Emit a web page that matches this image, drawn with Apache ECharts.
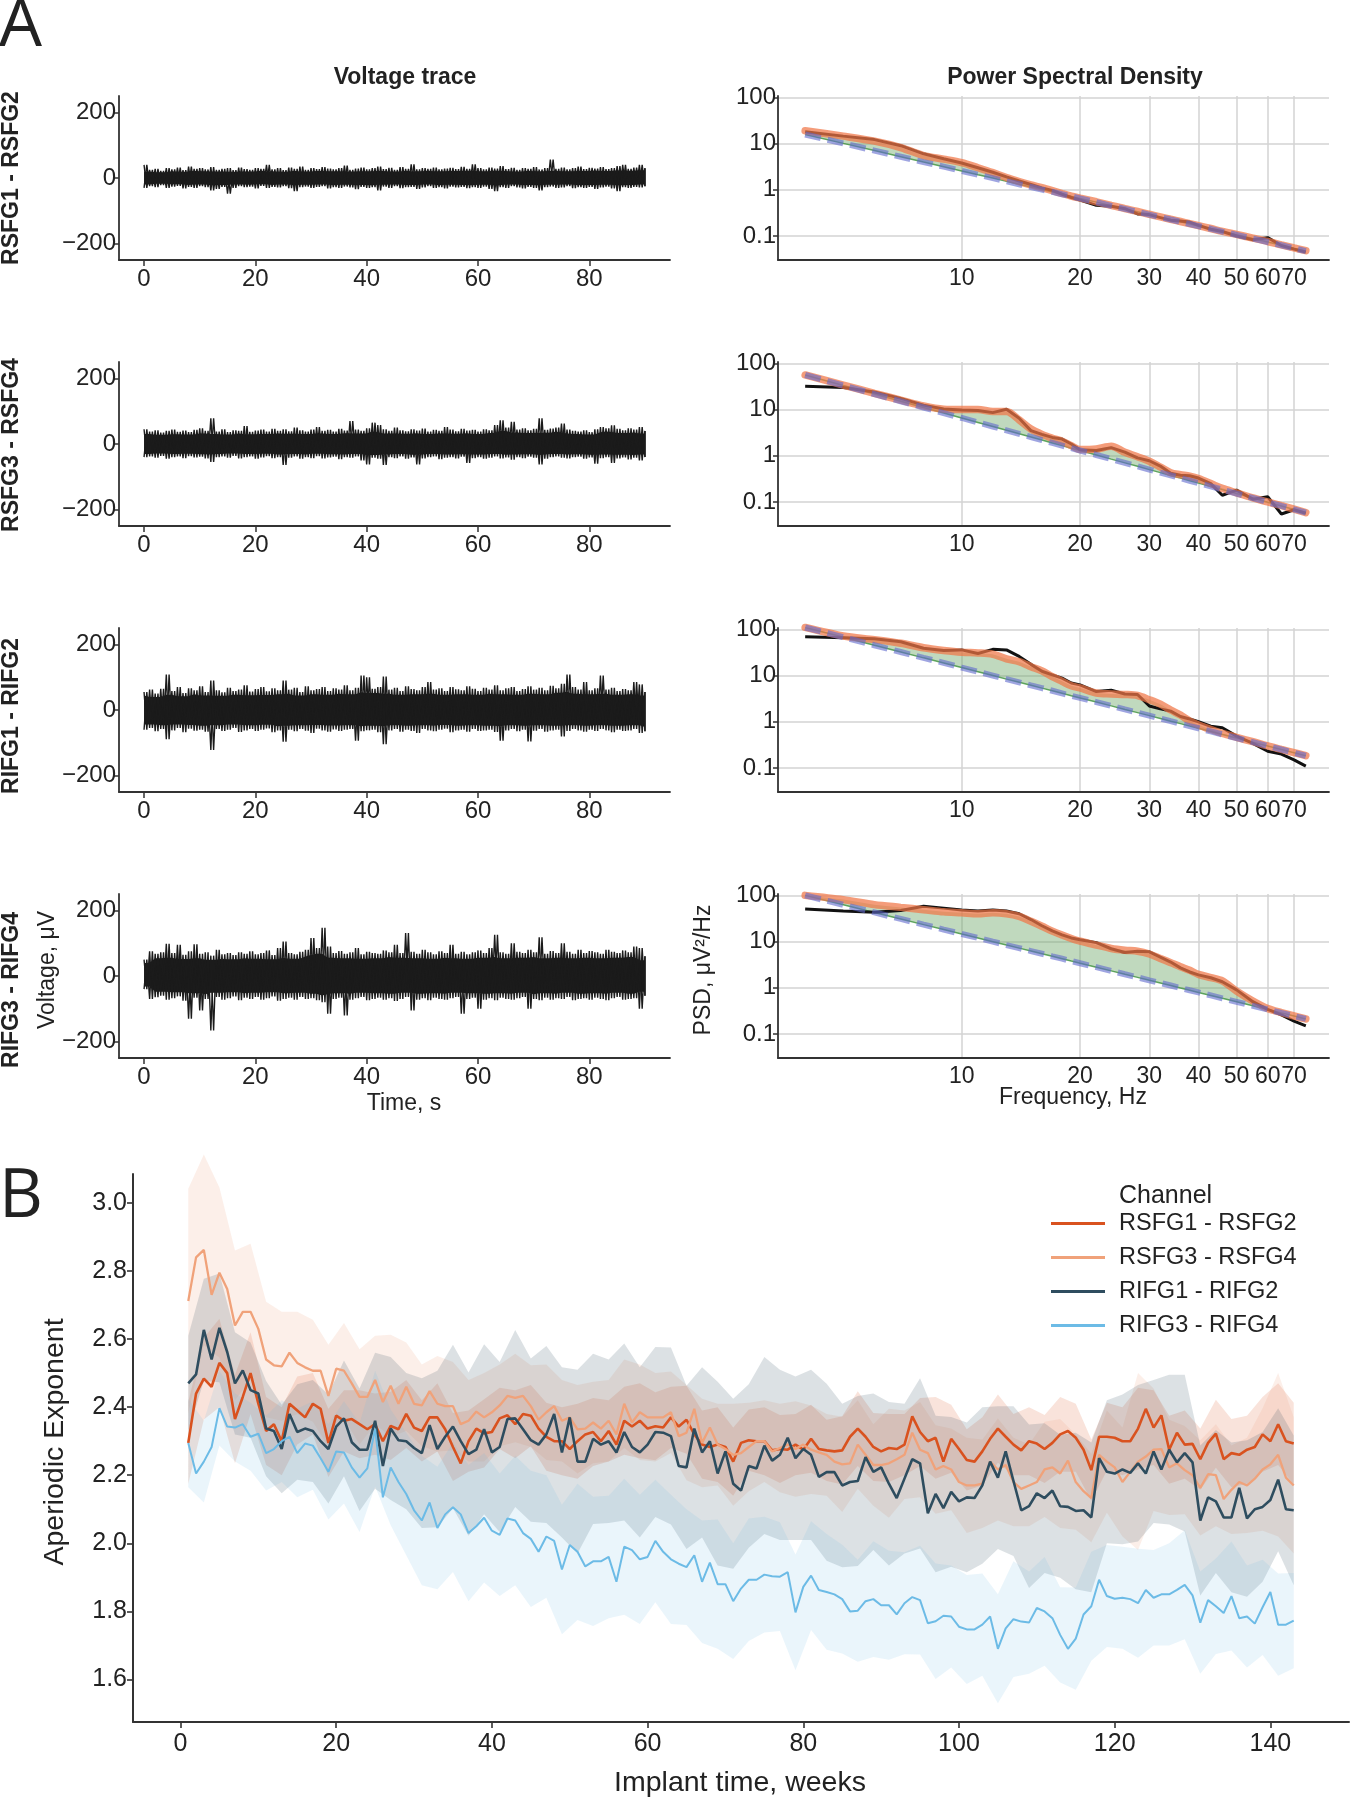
<!DOCTYPE html>
<html><head><meta charset="utf-8">
<script src="https://cdn.jsdelivr.net/npm/echarts@6/dist/echarts.min.js"></script>
<style>html,body{margin:0;padding:0;background:#fff}#c{width:1351px;height:1800px}</style>
</head><body><div id="c"></div>
<script>
// ---------------- DATA ----------------
const channels = ['RSFG1 - RSFG2', 'RSFG3 - RSFG4', 'RIFG1 - RIFG2', 'RIFG3 - RIFG4'];
const timeTicks = [0, 20, 40, 60, 80];
const voltTicks = [-200, 0, 200];

// voltage trace envelopes (µV), one upper and one lower excursion per second, t = 0..90 s
const vUp1 = [40,25,28,22,30,26,32,24,35,28,30,26,33,25,28,30,24,32,27,25,30,28,40,26,30,24,32,28,35,25,30,27,33,29,26,30,38,25,29,32,26,30,35,27,31,25,33,28,42,26,30,28,32,26,29,31,27,34,28,42,30,26,32,29,36,27,31,25,30,28,33,26,30,56,28,32,26,30,35,27,31,29,33,27,30,36,40,28,32,40,30];
const vLo1 = [-30,-25,-28,-22,-30,-26,-24,-32,-27,-30,-25,-28,-38,-33,-27,-48,-30,-25,-28,-26,-32,-24,-30,-27,-29,-25,-31,-40,-28,-26,-30,-27,-25,-32,-28,-30,-26,-29,-34,-27,-30,-28,-38,-26,-30,-25,-31,-28,-27,-33,-29,-25,-30,-28,-32,-26,-29,-27,-31,-28,-30,-26,-33,-40,-28,-30,-25,-29,-32,-27,-30,-38,-28,-26,-30,-29,-25,-31,-28,-30,-27,-33,-29,-26,-32,-40,-28,-30,-27,-29,-25];
const vUp2 = [45,38,42,35,40,44,37,41,36,43,48,40,78,38,45,36,42,40,55,37,41,44,38,46,40,45,39,50,42,38,44,52,40,43,38,46,41,70,44,40,48,65,58,45,40,50,42,39,45,41,47,38,43,40,52,44,39,46,41,43,38,45,42,58,72,50,68,44,48,42,46,78,43,47,50,62,44,40,38,42,36,45,52,48,57,46,42,48,44,52,40];
const vLo2 = [-40,-38,-42,-36,-45,-40,-38,-43,-37,-41,-39,-44,-55,-40,-38,-42,-36,-44,-40,-38,-45,-41,-37,-43,-40,-64,-42,-38,-45,-40,-43,-37,-44,-41,-39,-46,-40,-42,-38,-50,-62,-42,-45,-64,-40,-43,-38,-45,-41,-62,-44,-40,-38,-46,-42,-40,-44,-39,-58,-43,-40,-45,-42,-38,-44,-41,-48,-40,-43,-39,-42,-62,-45,-40,-38,-42,-44,-40,-39,-45,-41,-60,-43,-40,-58,-44,-41,-47,-42,-50,-40];
const vUp3 = [55,62,50,65,108,58,70,52,66,60,72,55,90,60,54,68,58,62,75,56,64,70,57,66,60,90,62,68,55,72,60,64,70,58,66,62,75,60,68,105,100,65,70,102,62,68,58,72,64,60,70,85,62,66,58,70,63,60,72,65,58,68,62,75,60,66,70,58,64,72,62,68,60,74,66,80,108,70,62,85,60,66,105,62,68,58,64,60,85,78,55];
const vLo3 = [-60,-55,-65,-58,-89,-62,-55,-68,-57,-63,-60,-66,-122,-58,-64,-60,-55,-67,-62,-58,-64,-60,-56,-68,-62,-97,-60,-65,-58,-63,-70,-57,-62,-66,-59,-64,-60,-58,-94,-65,-62,-60,-68,-104,-62,-58,-66,-60,-64,-70,-58,-62,-65,-60,-57,-68,-62,-60,-66,-58,-64,-62,-60,-67,-94,-62,-58,-65,-60,-96,-63,-58,-66,-62,-60,-81,-64,-58,-62,-66,-60,-64,-58,-62,-68,-60,-64,-62,-58,-70,-65];
const vUp4 = [50,75,68,72,98,70,95,65,75,97,68,72,62,80,66,70,64,72,68,75,66,70,78,64,85,105,70,66,74,80,116,85,147,90,70,76,68,72,85,66,74,70,68,78,72,95,70,131,74,68,80,72,66,75,70,95,68,74,66,72,78,70,85,126,72,68,100,74,70,80,72,118,68,76,70,100,74,68,80,70,76,72,68,80,74,70,78,72,90,85,60];
const vLo4 = [-40,-70,-65,-60,-72,-68,-62,-75,-130,-66,-105,-70,-166,-64,-72,-68,-62,-74,-66,-70,-64,-72,-68,-62,-75,-70,-66,-72,-64,-70,-68,-74,-80,-115,-70,-66,-120,-72,-68,-64,-74,-70,-66,-72,-68,-76,-70,-64,-105,-72,-68,-74,-66,-70,-72,-68,-64,-115,-70,-66,-100,-72,-68,-74,-66,-70,-72,-68,-64,-100,-70,-74,-66,-72,-68,-70,-64,-74,-70,-68,-72,-66,-70,-74,-68,-64,-72,-70,-68,-100,-60];

// power spectral density (µV²/Hz)
const psdFreqs = [4,5,6,7,8,9,10,11,12,13,14,15,16,17,18,19,20,22,24,26,28,30,32,34,36,38,40,43,46,50,55,60,65,70,75];
const psdTickF = [10, 20, 30, 40, 50, 60, 70];
const psdTickP = [0.1, 1, 10, 100];
const psdBlack1 = [18,14.5,12.2,9.0,6.0,4.7,3.8,3.0,2.4,1.9,1.55,1.3,1.1,0.97,0.8,0.68,0.6,0.46,0.44,0.39,0.3,0.29,0.25,0.22,0.21,0.2,0.17,0.14,0.125,0.1,0.083,0.092,0.062,0.052,0.045];
const psdModel1 = [19,14.5,11.3,8.2,5.5,4.6,3.86,3.0,2.35,1.83,1.5,1.27,1.11,0.96,0.83,0.73,0.66,0.55,0.46,0.39,0.34,0.295,0.26,0.23,0.206,0.185,0.167,0.145,0.126,0.108,0.09,0.076,0.064,0.055,0.048];
const psdAper1 = [15.7,10.1,7.05,5.19,3.98,3.16,2.56,2.12,1.79,1.52,1.32,1.15,1.01,0.90,0.80,0.72,0.65,0.54,0.45,0.385,0.333,0.29,0.256,0.227,0.203,0.182,0.164,0.143,0.124,0.106,0.088,0.074,0.063,0.054,0.047];
const psdBlack2 = [32,30,24,17.5,12.5,10.3,9.8,9.6,8.6,10.2,6.5,3.5,2.9,2.5,2.3,1.8,1.35,1.3,1.5,1.2,0.9,0.78,0.6,0.42,0.38,0.37,0.33,0.25,0.14,0.18,0.115,0.13,0.055,0.068,0.057];
const psdModel2 = [56,34,22.5,16,12,10.2,10,10,9.1,9.1,6.0,3.8,2.9,2.4,2.06,1.66,1.36,1.4,1.6,1.19,0.95,0.76,0.57,0.43,0.39,0.36,0.32,0.25,0.197,0.158,0.123,0.1,0.083,0.07,0.059];
const psdAper2 = [56.1,33.3,21.7,15.1,11.1,8.4,6.58,5.27,4.30,3.56,2.99,2.55,2.19,1.90,1.66,1.46,1.30,1.04,0.847,0.703,0.592,0.502,0.432,0.376,0.329,0.288,0.256,0.217,0.185,0.152,0.122,0.099,0.082,0.069,0.059];
const psdBlack3 = [69,66,63,54,39,35,36,30,37,36,26,17.5,12.4,10.4,8.8,6.9,6.3,4.5,4.8,4.0,3.9,2.2,1.9,1.7,1.3,1.15,1.0,0.8,0.74,0.49,0.34,0.23,0.2,0.15,0.11];
const psdModel3 = [110,72,60,50,40,35,32,31,29,23,20,15.6,12.6,9.5,7.5,6.0,5.4,4.2,4.0,3.9,3.7,3.0,2.4,1.8,1.4,1.04,0.85,0.68,0.56,0.46,0.37,0.3,0.252,0.215,0.185];
const psdAper3 = [110,67.5,45.3,32.4,24.2,18.8,14.9,12.1,10.0,8.39,7.15,6.15,5.35,4.69,4.13,3.66,3.28,2.67,2.21,1.85,1.58,1.36,1.18,1.03,0.912,0.809,0.724,0.619,0.533,0.445,0.362,0.299,0.251,0.214,0.184];
const psdBlack4 = [51,46,43,47,58,53,48,46,48,46,40,30,22,17,14,12,11,9.5,7,5.8,6.2,6.0,4.6,3.6,2.7,2.2,1.9,1.65,1.35,0.9,0.5,0.34,0.26,0.19,0.15];
const psdModel4 = [100,81,63,55,49,44,42,40,42,40,35,27.5,21.5,16.8,13.8,11.7,10.2,8.4,7.1,6.5,6.2,5.4,4.3,3.5,2.86,2.39,1.95,1.66,1.41,0.85,0.52,0.356,0.29,0.245,0.2125];
const psdAper4 = [100,62.5,42.7,30.9,23.3,18.2,14.6,12.0,9.96,8.41,7.21,6.24,5.45,4.80,4.26,3.79,3.40,2.79,2.32,1.96,1.68,1.45,1.27,1.12,0.99,0.883,0.794,0.684,0.592,0.497,0.407,0.339,0.286,0.245,0.212];

// panel B: weekly aperiodic exponent (weeks 1..143)
const weekTicks = [0, 20, 40, 60, 80, 100, 120, 140];
const expTicks = [1.6, 1.8, 2.0, 2.2, 2.4, 2.6, 2.8, 3.0];
const expRSFG12 = [2.295,2.44,2.484,2.46,2.53,2.50,2.365,2.43,2.50,2.41,2.33,2.35,2.30,2.41,2.39,2.37,2.41,2.395,2.295,2.375,2.36,2.365,2.35,2.335,2.35,2.30,2.345,2.335,2.38,2.34,2.33,2.37,2.37,2.335,2.283,2.235,2.30,2.337,2.323,2.327,2.367,2.376,2.35,2.38,2.375,2.337,2.313,2.30,2.30,2.277,2.30,2.32,2.327,2.30,2.33,2.29,2.36,2.343,2.36,2.337,2.344,2.34,2.37,2.343,2.363,2.32,2.29,2.283,2.29,2.283,2.24,2.295,2.303,2.30,2.30,2.273,2.277,2.275,2.29,2.275,2.307,2.277,2.273,2.27,2.273,2.313,2.337,2.313,2.283,2.27,2.28,2.277,2.29,2.373,2.327,2.30,2.31,2.24,2.307,2.277,2.245,2.24,2.27,2.307,2.337,2.313,2.29,2.273,2.30,2.293,2.277,2.295,2.32,2.33,2.31,2.275,2.215,2.313,2.313,2.31,2.30,2.30,2.337,2.395,2.34,2.376,2.275,2.325,2.29,2.292,2.247,2.295,2.322,2.247,2.265,2.26,2.275,2.283,2.32,2.30,2.35,2.30,2.293];
const expRSFG34 = [2.712,2.84,2.862,2.73,2.795,2.747,2.64,2.68,2.68,2.63,2.54,2.523,2.52,2.56,2.53,2.517,2.507,2.507,2.433,2.513,2.507,2.47,2.43,2.43,2.48,2.415,2.463,2.41,2.46,2.41,2.405,2.447,2.41,2.403,2.403,2.35,2.36,2.387,2.37,2.385,2.405,2.433,2.427,2.433,2.403,2.363,2.385,2.403,2.36,2.37,2.335,2.337,2.355,2.337,2.36,2.32,2.41,2.355,2.385,2.37,2.37,2.37,2.385,2.315,2.325,2.395,2.295,2.34,2.29,2.277,2.26,2.265,2.283,2.30,2.30,2.27,2.28,2.29,2.277,2.29,2.275,2.267,2.26,2.24,2.232,2.235,2.29,2.26,2.23,2.23,2.235,2.247,2.26,2.325,2.275,2.265,2.217,2.227,2.217,2.18,2.17,2.17,2.175,2.24,2.217,2.23,2.18,2.16,2.17,2.18,2.217,2.223,2.205,2.243,2.18,2.153,2.133,2.26,2.24,2.223,2.18,2.21,2.24,2.255,2.275,2.277,2.223,2.235,2.215,2.20,2.163,2.203,2.20,2.13,2.157,2.18,2.17,2.19,2.217,2.232,2.26,2.193,2.17];
const expRIFG12 = [2.47,2.496,2.627,2.54,2.633,2.562,2.47,2.508,2.45,2.44,2.337,2.33,2.277,2.38,2.327,2.337,2.33,2.30,2.277,2.343,2.367,2.297,2.275,2.275,2.36,2.227,2.337,2.303,2.30,2.28,2.265,2.347,2.277,2.313,2.343,2.30,2.262,2.275,2.335,2.267,2.283,2.365,2.367,2.335,2.303,2.29,2.32,2.38,2.267,2.37,2.24,2.24,2.307,2.29,2.30,2.267,2.327,2.283,2.267,2.29,2.327,2.325,2.315,2.227,2.223,2.337,2.267,2.30,2.205,2.27,2.175,2.155,2.227,2.22,2.287,2.243,2.26,2.31,2.25,2.277,2.26,2.195,2.209,2.209,2.17,2.18,2.183,2.253,2.21,2.223,2.175,2.133,2.19,2.247,2.235,2.088,2.145,2.103,2.151,2.123,2.135,2.133,2.17,2.24,2.193,2.27,2.183,2.097,2.109,2.147,2.133,2.155,2.109,2.107,2.095,2.097,2.076,2.25,2.21,2.205,2.217,2.207,2.235,2.205,2.27,2.217,2.275,2.238,2.265,2.238,2.067,2.135,2.123,2.076,2.076,2.163,2.073,2.10,2.107,2.127,2.187,2.10,2.097];
const expRIFG34 = [2.295,2.205,2.24,2.283,2.397,2.343,2.34,2.35,2.313,2.322,2.265,2.277,2.30,2.313,2.265,2.293,2.287,2.25,2.21,2.27,2.267,2.223,2.193,2.22,2.337,2.135,2.223,2.18,2.145,2.097,2.067,2.12,2.045,2.085,2.106,2.085,2.03,2.05,2.075,2.037,2.025,2.073,2.067,2.03,2.013,1.975,2.02,2.007,1.923,1.995,1.975,1.932,1.947,1.947,1.96,1.887,1.99,1.98,1.953,1.96,2.007,1.975,1.953,1.94,1.93,1.965,1.887,1.943,1.88,1.88,1.83,1.867,1.893,1.893,1.908,1.903,1.902,1.915,1.797,1.872,1.905,1.863,1.857,1.85,1.836,1.80,1.802,1.83,1.836,1.818,1.818,1.791,1.824,1.842,1.833,1.765,1.771,1.787,1.785,1.755,1.747,1.747,1.761,1.785,1.69,1.75,1.777,1.77,1.767,1.81,1.80,1.78,1.731,1.69,1.72,1.791,1.815,1.893,1.845,1.837,1.84,1.836,1.824,1.863,1.84,1.85,1.85,1.863,1.878,1.847,1.767,1.833,1.815,1.795,1.845,1.78,1.785,1.764,1.812,1.857,1.761,1.761,1.773];
// confidence-band half widths at odd weeks 1,3,...,143
const ciRSFG12 = [.12,.12,.13,.13,.12,.1,.1,.1,.09,.1,.09,.1,.09,.1,.1,.09,.1,.1,.09,.1,.09,.1,.09,.1,.1,.11,.1,.09,.1,.11,.1,.09,.1,.1,.11,.1,.09,.1,.1,.09,.1,.09,.1,.11,.1,.1,.09,.1,.12,.1,.09,.1,.1,.09,.1,.1,.11,.1,.09,.1,.1,.12,.11,.1,.1,.09,.1,.1,.1,.11,.12,.12];
const ciRSFG34 = [.33,.28,.25,.22,.2,.17,.16,.15,.15,.15,.14,.14,.13,.15,.13,.12,.14,.13,.12,.13,.12,.13,.12,.14,.12,.13,.12,.12,.13,.14,.13,.12,.14,.13,.12,.15,.13,.12,.13,.14,.13,.12,.14,.13,.12,.16,.13,.14,.13,.12,.14,.13,.15,.13,.12,.14,.16,.14,.13,.15,.16,.26,.18,.14,.13,.14,.15,.13,.14,.18,.24,.2];
const ciRIFG12 = [.14,.15,.16,.15,.14,.14,.13,.14,.15,.16,.17,.18,.2,.21,.2,.22,.23,.24,.24,.25,.25,.26,.24,.26,.25,.27,.25,.24,.26,.25,.25,.26,.24,.25,.27,.25,.24,.26,.25,.24,.25,.26,.24,.25,.23,.24,.22,.25,.23,.22,.22,.23,.21,.22,.24,.22,.21,.23,.22,.21,.22,.23,.21,.22,.23,.22,.21,.22,.23,.22,.21,.22];
const ciRIFG34 = [.13,.12,.11,.1,.1,.11,.12,.13,.13,.14,.15,.16,.17,.17,.18,.19,.18,.19,.2,.19,.18,.19,.2,.18,.19,.2,.19,.18,.2,.19,.18,.19,.17,.18,.19,.17,.18,.17,.16,.17,.16,.17,.16,.15,.17,.16,.15,.16,.17,.15,.16,.15,.16,.17,.15,.16,.14,.15,.16,.15,.15,.16,.14,.15,.16,.15,.14,.16,.15,.14,.15,.14];

// ---------------- BUILD ----------------
const FONT = "'Liberation Sans', Arial, Helvetica, sans-serif";
const AX = '#333';
const TXT = '#222';
const chart = echarts.init(document.getElementById('c'), null, {renderer: 'canvas'});

const vUps = [vUp1, vUp2, vUp3, vUp4], vLos = [vLo1, vLo2, vLo3, vLo4];
const psdB = [psdBlack1, psdBlack2, psdBlack3, psdBlack4];
const psdM = [psdModel1, psdModel2, psdModel3, psdModel4];
const psdA = [psdAper1, psdAper2, psdAper3, psdAper4];
const lg = v => Math.log10(v);
const rowTop = r => 96 + 266 * r;

const grids = [], xAxes = [], yAxes = [], series = [];
const axLine = {show: true, onZero: false, lineStyle: {color: AX, width: 1.8}};
const lbl = (extra) => Object.assign({color: TXT, fontSize: 24, fontFamily: FONT, hideOverlap: false}, extra);

for (let r = 0; r < 4; r++) grids.push({left: 119, top: rowTop(r), width: 551, height: 164, containLabel: false, outerBoundsMode: 'none'});
for (let r = 0; r < 4; r++) grids.push({left: 778, top: rowTop(r), width: 551, height: 164, containLabel: false, outerBoundsMode: 'none'});
grids.push({left: 133, top: 1174, width: 1216, height: 548, containLabel: false, outerBoundsMode: 'none'});

function polygonSeries(axisIdx, xs, lo, hi, color, z) {
  return {type: 'custom', xAxisIndex: axisIdx, yAxisIndex: axisIdx, z: z, silent: true, animation: false,
    data: [[xs[0], lo[0]]],
    renderItem: function (params, api) {
      const pts = [];
      for (let i = 0; i < xs.length; i++) pts.push(api.coord([xs[i], hi[i]]));
      for (let i = xs.length - 1; i >= 0; i--) pts.push(api.coord([xs[i], lo[i]]));
      return {type: 'polygon', shape: {points: pts}, style: {fill: color}};
    }};
}

// voltage axes + traces
for (let r = 0; r < 4; r++) {
  xAxes.push({type: 'value', gridIndex: r, min: -4.5, max: 94.5, axisLine: axLine,
    axisTick: {show: true, customValues: timeTicks, length: 6, lineStyle: {color: AX, width: 1.5}},
    axisLabel: lbl({customValues: timeTicks, margin: 7}), splitLine: {show: false}});
  yAxes.push({type: 'value', gridIndex: r, min: -250, max: 250, axisLine: axLine,
    axisTick: {show: true, customValues: voltTicks, length: 5, lineStyle: {color: AX, width: 1.5}},
    axisLabel: lbl({customValues: voltTicks, margin: 3, formatter: v => v < 0 ? '\u2212' + Math.abs(v) : String(v)}),
    splitLine: {show: false}});
  const up = vUps[r], lo = vLos[r], n = up.length;
  // dense core of the trace: each second's envelope limited by its smaller neighbours
  const cx = [], cHi = [], cLo = [];
  for (let t = 0; t < n; t++) {
    const p = Math.max(t - 1, 0), q = Math.min(t + 1, n - 1);
    cx.push(t);
    cHi.push(Math.min(up[p], up[t], up[q]) * 0.8);
    cLo.push(Math.max(lo[p], lo[t], lo[q]) * 0.8);
  }
  series.push(polygonSeries(r, cx, cLo, cHi, '#1b1b1b', 2));
  const a = [], b = [];
  for (let t = 0; t < n; t++) {
    const t2 = t < n - 1 ? t + 0.5 : t;
    a.push([t, up[t]]); a.push([t2, lo[t]]);
    b.push([t, lo[t]]); b.push([t2, up[t]]);
  }
  [a, b].forEach(d => series.push({type: 'line', xAxisIndex: r, yAxisIndex: r, z: 3, data: d, symbol: 'none',
    lineStyle: {color: '#1b1b1b', width: 1.4}, silent: true, animation: false, sampling: null}));
}

// PSD axes + series
const lf = psdFreqs.map(lg);
for (let r = 0; r < 4; r++) {
  const gi = 4 + r;
  xAxes.push({type: 'value', gridIndex: gi, min: 0.533, max: 1.934, axisLine: axLine,
    axisTick: {show: false, customValues: psdTickF.map(lg)},
    axisLabel: lbl({customValues: psdTickF.map(lg), margin: 7, fontSize: 23, formatter: v => String(Math.round(Math.pow(10, v)))}),
    splitLine: {show: true, lineStyle: {color: '#d3d3d3', width: 1.5}}});
  yAxes.push({type: 'value', gridIndex: gi, min: -1.52, max: 2.03, axisLine: axLine,
    axisTick: {show: true, customValues: psdTickP.map(lg), length: 5, lineStyle: {color: AX, width: 1.5}},
    axisLabel: lbl({customValues: psdTickP.map(lg), margin: 2, formatter: v => { const p = Math.pow(10, v); return p >= 1 ? String(Math.round(p)) : p.toFixed(1); }}),
    splitLine: {show: true, lineStyle: {color: '#d3d3d3', width: 1.5}}});
  const la = psdA[r].map(lg), lm = psdM[r].map((v, i) => Math.max(lg(v), la[i])), lb = psdB[r].map(lg);
  series.push(polygonSeries(gi, lf, la, lm, 'rgba(105,165,100,0.42)', 2));
  series.push({type: 'line', xAxisIndex: gi, yAxisIndex: gi, z: 3, data: lf.map((x, i) => [x, la[i]]), symbol: 'none',
    lineStyle: {color: 'rgba(70,150,70,0.85)', width: 1.5}, silent: true, animation: false});
  series.push({type: 'line', xAxisIndex: gi, yAxisIndex: gi, z: 4, data: lf.map((x, i) => [x, lb[i]]), symbol: 'none',
    lineStyle: {color: '#111', width: 3}, silent: true, animation: false, clip: false});
  series.push({type: 'line', xAxisIndex: gi, yAxisIndex: gi, z: 5, data: lf.map((x, i) => [x, lm[i]]), symbol: 'none', smooth: 0.3,
    lineStyle: {color: 'rgba(240,118,70,0.72)', width: 7.5, cap: 'round'}, silent: true, animation: false, clip: false});
  series.push({type: 'line', xAxisIndex: gi, yAxisIndex: gi, z: 6, data: lf.map((x, i) => [x, la[i]]), symbol: 'none',
    lineStyle: {color: 'rgba(95,105,205,0.6)', width: 6, type: [16, 7]}, silent: true, animation: false, clip: false});
}

// panel B
xAxes.push({type: 'value', gridIndex: 8, min: -6.1, max: 150.1, axisLine: {show: true, onZero: false, lineStyle: {color: AX, width: 2}},
  axisTick: {show: true, customValues: weekTicks, length: 6, lineStyle: {color: AX, width: 1.6}},
  axisLabel: lbl({customValues: weekTicks, margin: 10, fontSize: 25}), splitLine: {show: false}});
yAxes.push({type: 'value', gridIndex: 8, min: 1.475, max: 3.085, axisLine: {show: true, onZero: false, lineStyle: {color: AX, width: 2}},
  axisTick: {show: true, customValues: expTicks, length: 6, lineStyle: {color: AX, width: 1.6}},
  axisLabel: lbl({customValues: expTicks, margin: 6, fontSize: 25, formatter: v => v.toFixed(1)}), splitLine: {show: false}});

const means = [expRSFG12, expRSFG34, expRIFG12, expRIFG34];
const cis = [ciRSFG12, ciRSFG34, ciRIFG12, ciRIFG34];
const colors = ['#d9521f', '#f0a27a', '#2e4d5f', '#6cbbe6'];
const bandColors = ['rgba(217,82,31,0.16)', 'rgba(240,162,122,0.17)', 'rgba(46,77,95,0.17)', 'rgba(108,187,230,0.14)'];
const widths = [2.6, 2.3, 2.6, 2.0];
for (let s = 0; s < 4; s++) {
  const xs = [], lo = [], hi = [];
  cis[s].forEach((h, k) => { const w = 2 * k + 1; xs.push(w); lo.push(means[s][w - 1] - h); hi.push(means[s][w - 1] + h); });
  series.push(polygonSeries(8, xs, lo, hi, bandColors[s], 2));
}
for (let s = 0; s < 4; s++) {
  series.push({type: 'line', name: channels[s], xAxisIndex: 8, yAxisIndex: 8, z: 4, color: colors[s],
    data: means[s].map((v, i) => [i + 1, v]), symbol: 'none', showSymbol: false,
    lineStyle: {color: colors[s], width: widths[s]}, silent: true, animation: false});
}

function txt(x, y, text, size, opts) {
  opts = opts || {};
  return {type: 'text', x: x, y: y, rotation: opts.rot || 0, silent: true,
    style: {text: text, fontSize: size, fontFamily: opts.family || FONT, fontWeight: opts.bold ? 'bold' : 'normal',
      fill: TXT, align: opts.align || 'center', verticalAlign: 'middle',
      textAlign: opts.align || 'center', textVerticalAlign: 'middle'}};
}
const R = Math.PI / 2;
const LETTER = "'Open Sans', 'Liberation Sans', sans-serif";
const graphics = [
  txt(-1, 27, 'A', 68, {align: 'left', family: LETTER}),
  txt(-1, 1198, 'B', 68, {align: 'left', family: LETTER}),
  txt(405, 78, 'Voltage trace', 23, {bold: true}),
  txt(1075, 78, 'Power Spectral Density', 23, {bold: true}),
  txt(12, 178, channels[0], 23, {bold: true, rot: R}),
  txt(12, 445, channels[1], 23, {bold: true, rot: R}),
  txt(12, 716, channels[2], 23, {bold: true, rot: R}),
  txt(12, 990, channels[3], 23, {bold: true, rot: R}),
  txt(48, 970, 'Voltage, \u03bcV', 23, {rot: R}),
  txt(404, 1104, 'Time, s', 23),
  txt(704, 970, 'PSD, \u03bcV\u00b2/Hz', 23, {rot: R}),
  txt(1073, 1098, 'Frequency, Hz', 23),
  txt(55, 1442, 'Aperiodic Exponent', 28.5, {rot: R}),
  txt(740, 1783, 'Implant time, weeks', 28.5),
  txt(1119, 1196, 'Channel', 25, {align: 'left'})
];

chart.setOption({
  animation: false,
  backgroundColor: '#ffffff',
  grid: grids, xAxis: xAxes, yAxis: yAxes, series: series,
  legend: {data: channels, orient: 'vertical', left: 1051, top: 1210, icon: 'rect', itemWidth: 54, itemHeight: 3,
    itemGap: 7, padding: 0, selectedMode: false,
    textStyle: {fontSize: 23.5, fontFamily: FONT, color: TXT, lineHeight: 27, padding: [0, 0, 0, 9]}},
  graphic: {elements: graphics}
});
</script>
</body></html>
